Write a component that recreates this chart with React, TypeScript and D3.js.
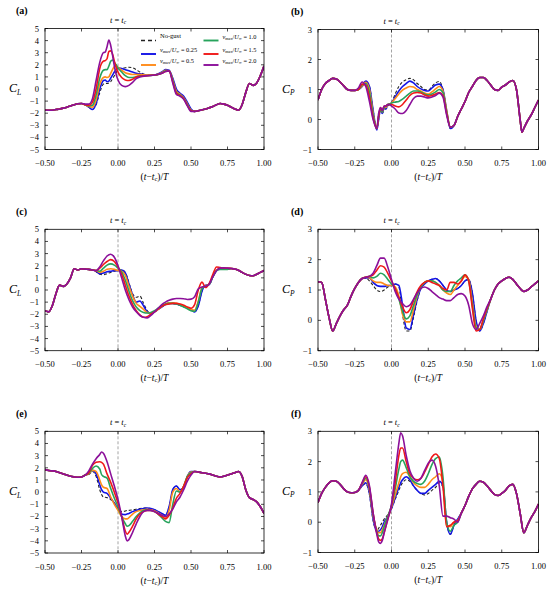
import React from 'react';
import * as d3 from 'd3';

// ---------------------------------------------------------------------------
// Sample times (t - tc)/T
// ---------------------------------------------------------------------------

const PRE_T = [-0.5, -0.475, -0.45, -0.425, -0.4, -0.375, -0.35, -0.325, -0.3, -0.275, -0.25];
const PRE_T_C = [-0.5, -0.475, -0.45, -0.425, -0.4, -0.375, -0.35, -0.325, -0.3, -0.275, -0.25, -0.225, -0.2, -0.175];
const PRE_T_D = [-0.5, -0.475, -0.45, -0.425, -0.4, -0.375, -0.35, -0.325, -0.3, -0.275, -0.25, -0.225, -0.2];

const WIN_T_A = [-0.225, -0.2, -0.175, -0.15, -0.125, -0.1, -0.0875, -0.075, -0.0625, -0.05, -0.0375, -0.025, -0.0125, 0, 0.025, 0.05, 0.075, 0.1, 0.125, 0.15, 0.2, 0.25, 0.3, 0.325, 0.35, 0.375, 0.4, 0.425, 0.45, 0.475, 0.5, 0.525];
const WIN_T_B = [-0.225, -0.2, -0.175, -0.15, -0.125, -0.1, -0.0875, -0.075, -0.0625, -0.05, -0.0375, -0.025, -0.0125, 0, 0.025, 0.05, 0.075, 0.1, 0.125, 0.15, 0.175, 0.2, 0.225, 0.25, 0.275, 0.3, 0.325, 0.35, 0.375, 0.4, 0.425];
const WIN_T_C = [-0.15, -0.125, -0.1, -0.075, -0.05, -0.025, 0, 0.025, 0.05, 0.075, 0.1, 0.125, 0.15, 0.175, 0.2, 0.225, 0.25, 0.275, 0.3, 0.325, 0.35, 0.375, 0.4, 0.425, 0.45, 0.475, 0.5, 0.525, 0.55, 0.575, 0.6, 0.625, 0.65, 0.675, 0.7, 0.725, 0.75];
const WIN_T_D = [-0.175, -0.15, -0.125, -0.1, -0.075, -0.05, -0.025, 0, 0.025, 0.05, 0.075, 0.1, 0.125, 0.15, 0.175, 0.2, 0.225, 0.25, 0.275, 0.3, 0.325, 0.35, 0.375, 0.4, 0.425, 0.45, 0.475, 0.5, 0.525, 0.55, 0.575, 0.6, 0.625, 0.65];
const WIN_T_E = [-0.225, -0.2, -0.175, -0.15, -0.125, -0.1125, -0.1, -0.075, -0.05, -0.025, 0, 0.025, 0.05, 0.0625, 0.075, 0.1, 0.125, 0.15, 0.175, 0.2, 0.225, 0.25, 0.275, 0.3, 0.325, 0.35, 0.375, 0.4, 0.425, 0.45, 0.475, 0.5];
const WIN_T_F = [-0.225, -0.2, -0.175, -0.15, -0.125, -0.1, -0.0875, -0.075, -0.0625, -0.05, -0.025, 0, 0.025, 0.05, 0.0625, 0.075, 0.1, 0.125, 0.15, 0.175, 0.2, 0.225, 0.25, 0.275, 0.3, 0.325, 0.35, 0.375, 0.4, 0.425, 0.45, 0.475];

const POST_T_A = [0.55, 0.575, 0.6, 0.625, 0.65, 0.675, 0.7, 0.725, 0.75, 0.775, 0.8, 0.825, 0.85, 0.875, 0.9, 0.925, 0.95, 0.975, 1.0];
const POST_T_B = [0.45, 0.475, 0.5, 0.525, 0.55, 0.575, 0.6, 0.625, 0.65, 0.675, 0.7, 0.725, 0.75, 0.775, 0.8, 0.825, 0.85, 0.875, 0.8875, 0.9, 0.925, 0.95, 0.975, 1.0];
const POST_T_C = [0.775, 0.8, 0.825, 0.85, 0.875, 0.9, 0.925, 0.95, 0.975, 1.0];
const POST_T_D = [0.675, 0.7, 0.725, 0.75, 0.775, 0.8, 0.825, 0.85, 0.875, 0.9, 0.925, 0.95, 0.975, 1.0];
const POST_T_E = [0.525, 0.55, 0.575, 0.6, 0.625, 0.65, 0.675, 0.7, 0.725, 0.75, 0.775, 0.8, 0.825, 0.85, 0.875, 0.9, 0.925, 0.95, 0.975, 1.0];
const POST_T_F = [0.5, 0.525, 0.55, 0.575, 0.6, 0.625, 0.65, 0.675, 0.7, 0.725, 0.75, 0.775, 0.8, 0.825, 0.85, 0.875, 0.9, 0.925, 0.95, 0.975, 1.0];

// ---------------------------------------------------------------------------
// (a) lift coefficient
// ---------------------------------------------------------------------------

const A_PRE = [-1.73, -1.75, -1.75, -1.7, -1.65, -1.58, -1.5, -1.4, -1.3, -1.22, -1.2];
const A_POST = [-1.8, -1.72, -1.65, -1.55, -1.45, -1.3, -1.2, -1.25, -1.35, -1.5, -1.65, -1.75, -1.3, -0.3, 0.45, 0.3, 0.5, 1.1, 1.9];
const A_NOGUST = [-1.3, -1.5, -1.65, -1.3, -0.3, 0.4, 0.45, 0.45, 0.5, 0.6, 0.85, 1.1, 1.35, 1.6, 1.7, 1.75, 1.8, 1.75, 1.6, 1.4, 1.15, 1.15, 1.35, 1.55, 1.5, 0.8, -0.1, -0.4, -0.65, -1.15, -1.7, -1.85];
const A_V025 = [-1.3, -1.5, -1.7, -1.2, 0.0, 0.7, 0.75, 0.6, 0.65, 0.9, 1.15, 1.4, 1.6, 1.75, 1.7, 1.6, 1.5, 1.4, 1.3, 1.25, 1.15, 1.15, 1.4, 1.6, 1.55, 0.9, 0.0, -0.35, -0.6, -1.1, -1.65, -1.85];
const A_V05 = [-1.3, -1.45, -1.5, -0.9, 0.4, 0.95, 1.0, 0.95, 1.0, 1.3, 1.6, 1.85, 1.9, 1.8, 1.55, 1.35, 1.25, 1.2, 1.2, 1.2, 1.15, 1.15, 1.35, 1.55, 1.5, 0.75, -0.2, -0.45, -0.75, -1.25, -1.75, -1.85];
const A_V10 = [-1.3, -1.4, -1.35, -0.5, 0.9, 1.55, 1.6, 1.6, 1.9, 2.3, 2.4, 2.2, 2.0, 1.75, 1.4, 1.1, 0.95, 0.95, 1.0, 1.1, 1.1, 1.15, 1.3, 1.5, 1.5, 0.7, -0.3, -0.5, -0.8, -1.3, -1.8, -1.85];
const A_V15 = [-1.3, -1.35, -1.1, 0.0, 1.7, 2.3, 2.35, 2.5, 3.1, 3.15, 2.9, 2.3, 1.8, 1.4, 0.95, 0.75, 0.7, 0.8, 1.0, 1.05, 1.1, 1.15, 1.3, 1.45, 1.5, 0.6, -0.35, -0.55, -0.8, -1.35, -1.8, -1.85];
const A_V20 = [-1.25, -1.25, -0.8, 0.7, 2.2, 3.0, 3.05, 3.5, 4.05, 3.6, 2.8, 1.9, 1.2, 0.75, 0.3, 0.2, 0.3, 0.55, 0.85, 1.0, 1.1, 1.15, 1.3, 1.45, 1.5, 0.5, -0.45, -0.6, -0.85, -1.4, -1.85, -1.85];

// ---------------------------------------------------------------------------
// (b) power coefficient
// ---------------------------------------------------------------------------

const B_PRE = [0.65, 1.0, 1.2, 1.3, 1.37, 1.35, 1.25, 1.12, 1.0, 0.97, 0.97];
const B_POST = [0.1, 0.35, 0.6, 0.9, 1.1, 1.3, 1.4, 1.4, 1.3, 1.15, 1.0, 0.97, 1.08, 1.15, 1.25, 1.3, 1.0, 0.0, -0.42, -0.3, -0.05, 0.15, 0.4, 0.65];
const B_NOGUST = [1.0, 1.1, 1.27, 1.1, 0.3, -0.3, 0.0, 0.3, 0.2, 0.35, 0.35, 0.45, 0.5, 0.55, 0.85, 1.1, 1.25, 1.33, 1.37, 1.32, 1.2, 1.1, 1.0, 0.98, 1.1, 1.22, 1.27, 1.0, 0.3, -0.3, -0.2];
const B_V025 = [1.0, 1.1, 1.28, 1.1, 0.3, -0.35, 0.0, 0.35, 0.2, 0.4, 0.35, 0.5, 0.5, 0.55, 0.75, 0.95, 1.1, 1.2, 1.28, 1.22, 1.1, 1.02, 0.97, 0.95, 1.05, 1.15, 1.18, 1.0, 0.3, -0.3, -0.2];
const B_V05 = [1.0, 1.12, 1.24, 1.0, 0.2, -0.3, 0.1, 0.35, 0.25, 0.4, 0.4, 0.5, 0.5, 0.55, 0.7, 0.85, 0.98, 1.05, 1.1, 1.08, 1.0, 0.95, 0.88, 0.85, 0.92, 1.02, 1.1, 0.95, 0.3, -0.25, -0.2];
const B_V10 = [1.0, 1.15, 1.2, 0.9, 0.15, -0.3, 0.1, 0.35, 0.25, 0.4, 0.45, 0.5, 0.52, 0.55, 0.58, 0.6, 0.68, 0.78, 0.88, 0.95, 0.95, 0.92, 0.85, 0.82, 0.85, 0.92, 1.0, 0.9, 0.25, -0.25, -0.2];
const B_V15 = [1.0, 1.18, 1.15, 0.75, 0.05, -0.3, 0.1, 0.4, 0.3, 0.45, 0.45, 0.5, 0.5, 0.5, 0.45, 0.42, 0.5, 0.65, 0.8, 0.88, 0.9, 0.88, 0.82, 0.78, 0.8, 0.85, 0.9, 0.8, 0.2, -0.25, -0.2];
const B_V20 = [1.05, 1.25, 1.1, 0.6, 0.0, -0.3, 0.2, 0.4, 0.3, 0.45, 0.45, 0.5, 0.5, 0.45, 0.35, 0.22, 0.2, 0.3, 0.5, 0.7, 0.78, 0.78, 0.75, 0.72, 0.75, 0.8, 0.88, 0.75, 0.15, -0.25, -0.2];

// ---------------------------------------------------------------------------
// (c) lift coefficient
// ---------------------------------------------------------------------------

const C_PRE = [-1.7, -1.8, -1.3, -0.3, 0.4, 0.3, 0.5, 1.0, 1.75, 1.65, 1.75, 1.72, 1.7, 1.65];
const C_POST = [1.77, 1.73, 1.62, 1.45, 1.3, 1.2, 1.18, 1.3, 1.45, 1.6];
const C_NOGUST = [1.5, 1.3, 1.25, 1.35, 1.45, 1.55, 1.6, 1.65, 1.45, 0.6, -0.3, -0.6, -0.5, -1.1, -1.7, -1.95, -1.8, -1.6, -1.4, -1.2, -1.1, -1.1, -1.15, -1.25, -1.35, -1.5, -1.6, -1.8, -1.3, -0.1, 0.4, 0.45, 1.1, 1.6, 1.75, 1.75, 1.75];
const C_V025 = [1.55, 1.35, 1.4, 1.5, 1.55, 1.6, 1.6, 1.65, 1.4, 0.5, -0.4, -1.0, -0.9, -1.3, -1.8, -1.95, -1.8, -1.6, -1.4, -1.2, -1.1, -1.1, -1.15, -1.25, -1.35, -1.5, -1.6, -1.8, -1.3, -0.1, 0.4, 0.45, 1.1, 1.6, 1.75, 1.75, 1.75];
const C_V05 = [1.6, 1.45, 1.55, 1.7, 1.75, 1.7, 1.6, 1.55, 1.2, 0.3, -0.5, -1.1, -1.35, -1.6, -1.85, -1.9, -1.8, -1.6, -1.35, -1.15, -1.05, -1.05, -1.1, -1.2, -1.3, -1.45, -1.6, -1.65, -0.9, 0.2, 0.35, 0.5, 1.15, 1.65, 1.75, 1.75, 1.75];
const C_V10 = [1.6, 1.55, 1.8, 2.05, 2.15, 2.05, 1.8, 1.5, 0.8, -0.1, -0.9, -1.4, -1.7, -1.85, -1.9, -1.85, -1.7, -1.5, -1.3, -1.15, -1.1, -1.1, -1.15, -1.25, -1.4, -1.55, -1.7, -1.75, -1.0, 0.1, 0.3, 0.45, 1.1, 1.6, 1.7, 1.7, 1.7];
const C_V15 = [1.6, 1.8, 2.1, 2.35, 2.5, 2.35, 1.9, 1.3, 0.4, -0.5, -1.2, -1.7, -2.05, -2.25, -2.2, -2.0, -1.8, -1.55, -1.35, -1.2, -1.15, -1.1, -1.1, -1.15, -1.25, -1.4, -1.5, -1.2, 0.0, 0.65, 0.2, 0.55, 1.3, 1.9, 1.85, 1.8, 1.8];
const C_V20 = [1.6, 1.9, 2.4, 2.8, 2.95, 2.7, 2.0, 1.0, 0.0, -0.8, -1.4, -1.8, -2.1, -2.25, -2.3, -2.1, -1.8, -1.5, -1.2, -1.0, -0.85, -0.75, -0.7, -0.7, -0.72, -0.78, -0.75, -0.55, 0.1, 0.25, 0.3, 0.5, 1.1, 1.6, 1.8, 1.82, 1.8];

// ---------------------------------------------------------------------------
// (d) power coefficient
// ---------------------------------------------------------------------------

const D_PRE = [1.27, 1.25, 0.7, 0.1, -0.35, -0.1, 0.15, 0.35, 0.5, 0.8, 1.05, 1.25, 1.38];
const D_POST = [0.7, 1.0, 1.2, 1.3, 1.38, 1.42, 1.35, 1.2, 1.05, 0.95, 1.0, 1.1, 1.2, 1.3];
const D_NOGUST = [1.38, 1.3, 1.15, 1.0, 0.95, 1.0, 1.1, 1.15, 1.2, 1.1, 0.2, -0.35, -0.35, 0.1, 0.65, 1.05, 1.2, 1.3, 1.35, 1.38, 1.3, 1.15, 1.0, 0.95, 1.0, 1.05, 1.15, 1.3, 1.35, 0.9, 0.0, -0.35, -0.1, 0.3];
const D_V025 = [1.4, 1.4, 1.25, 1.15, 1.12, 1.12, 1.15, 1.15, 1.2, 1.15, 0.5, -0.25, -0.3, 0.2, 0.7, 1.05, 1.2, 1.3, 1.35, 1.38, 1.3, 1.15, 1.0, 0.95, 1.0, 1.05, 1.15, 1.3, 1.35, 0.9, 0.0, -0.35, -0.1, 0.3];
const D_V05 = [1.42, 1.4, 1.3, 1.25, 1.25, 1.2, 1.15, 1.15, 1.1, 0.8, 0.2, -0.05, -0.05, 0.35, 0.8, 1.1, 1.25, 1.3, 1.3, 1.25, 1.15, 1.0, 0.9, 0.85, 1.0, 1.15, 1.3, 1.45, 1.35, 0.6, -0.2, -0.3, 0.0, 0.35];
const D_V10 = [1.42, 1.45, 1.4, 1.45, 1.55, 1.5, 1.35, 1.2, 1.05, 0.7, 0.3, 0.05, 0.15, 0.5, 0.85, 1.1, 1.25, 1.3, 1.3, 1.25, 1.15, 1.0, 0.95, 0.95, 1.15, 1.3, 1.4, 1.5, 1.3, 0.5, -0.25, -0.3, 0.0, 0.35];
const D_V15 = [1.42, 1.45, 1.5, 1.65, 1.8, 1.75, 1.55, 1.3, 1.05, 0.75, 0.45, 0.25, 0.35, 0.65, 0.95, 1.15, 1.25, 1.3, 1.25, 1.2, 1.15, 1.05, 1.0, 1.25, 1.25, 1.2, 1.3, 1.5, 1.3, 0.4, -0.35, -0.3, 0.05, 0.4];
const D_V20 = [1.42, 1.45, 1.55, 1.8, 2.05, 2.05, 1.75, 1.35, 0.95, 0.7, 0.55, 0.45, 0.5, 0.7, 0.9, 1.05, 1.1, 1.05, 0.95, 0.85, 0.75, 0.7, 0.65, 0.65, 0.75, 0.85, 0.88, 0.8, 0.5, -0.1, -0.3, -0.1, 0.15, 0.45];

// ---------------------------------------------------------------------------
// (e) lift coefficient
// ---------------------------------------------------------------------------

const E_PRE = [1.85, 1.78, 1.75, 1.7, 1.6, 1.5, 1.4, 1.3, 1.25, 1.22, 1.25];
const E_POST = [1.7, 1.65, 1.6, 1.55, 1.5, 1.4, 1.3, 1.25, 1.3, 1.4, 1.5, 1.6, 1.7, 1.3, 0.2, -0.45, -0.6, -0.8, -1.2, -1.75];
const E_NOGUST = [1.4, 1.45, 1.7, 1.3, 0.2, -0.2, -0.4, -0.45, -0.6, -0.9, -1.3, -1.6, -1.55, -1.5, -1.5, -1.45, -1.4, -1.35, -1.3, -1.3, -1.35, -1.45, -1.6, -1.75, -1.9, -1.2, 0.2, 0.5, 0.2, 0.4, 1.3, 1.7];
const E_V025 = [1.4, 1.5, 1.8, 1.5, 0.6, 0.2, 0.0, -0.1, -0.5, -0.9, -1.4, -1.8, -1.85, -1.8, -1.75, -1.6, -1.5, -1.4, -1.35, -1.3, -1.35, -1.45, -1.6, -1.75, -1.9, -1.2, 0.2, 0.5, 0.2, 0.4, 1.3, 1.7];
const E_V05 = [1.4, 1.5, 1.8, 1.7, 1.0, 0.6, 0.4, 0.3, -0.4, -1.0, -1.5, -2.0, -2.2, -2.2, -2.1, -1.8, -1.6, -1.5, -1.45, -1.4, -1.45, -1.55, -1.7, -1.9, -2.1, -1.5, 0.0, 0.3, 0.0, 0.5, 1.3, 1.65];
const E_V10 = [1.4, 1.55, 1.95, 2.15, 1.9, 1.45, 1.3, 1.15, 0.3, -0.5, -1.2, -2.0, -2.6, -2.8, -2.75, -2.4, -2.0, -1.7, -1.5, -1.45, -1.5, -1.6, -1.8, -2.1, -2.4, -2.5, -1.0, 0.1, 0.0, 0.5, 1.3, 1.6];
const E_V15 = [1.4, 1.6, 2.2, 2.45, 2.5, 2.45, 2.3, 1.5, 0.8, 0.0, -0.9, -2.0, -3.2, -3.45, -3.3, -2.8, -2.2, -1.8, -1.6, -1.5, -1.5, -1.6, -1.8, -2.0, -2.2, -1.9, -1.3, -0.5, -0.1, 0.5, 1.2, 1.5];
const E_V20 = [1.4, 1.75, 2.3, 2.75, 3.1, 3.3, 3.2, 2.5, 1.5, 0.5, -0.6, -2.0, -3.6, -4.0, -3.9, -3.3, -2.6, -2.0, -1.6, -1.5, -1.5, -1.6, -1.75, -1.9, -2.0, -1.8, -1.4, -0.8, -0.4, 0.2, 0.9, 1.4];

// ---------------------------------------------------------------------------
// (f) power coefficient
// ---------------------------------------------------------------------------

const F_PRE = [0.65, 0.95, 1.15, 1.3, 1.37, 1.35, 1.25, 1.1, 1.0, 0.97, 0.98];
const F_POST = [0.55, 0.85, 1.1, 1.25, 1.35, 1.32, 1.2, 1.05, 0.92, 0.88, 0.95, 1.05, 1.2, 1.25, 0.95, 0.3, -0.35, -0.1, 0.15, 0.35, 0.6];
const F_NOGUST = [1.05, 1.2, 1.28, 0.9, 0.05, -0.3, -0.2, -0.1, 0.0, 0.1, 0.25, 0.45, 0.75, 1.05, 1.2, 1.3, 1.4, 1.35, 1.2, 1.05, 0.95, 0.9, 0.95, 1.05, 1.15, 1.3, 1.15, 0.0, -0.4, -0.1, 0.1, 0.3];
const F_V025 = [1.05, 1.2, 1.3, 0.95, 0.1, -0.3, -0.3, -0.25, -0.15, 0.0, 0.2, 0.45, 0.8, 1.15, 1.3, 1.4, 1.5, 1.4, 1.2, 1.05, 0.95, 0.95, 1.05, 1.15, 1.25, 1.35, 1.2, 0.0, -0.4, -0.1, 0.1, 0.3];
const F_V05 = [1.05, 1.25, 1.4, 1.05, 0.2, -0.25, -0.35, -0.35, -0.25, -0.1, 0.2, 0.5, 0.9, 1.3, 1.5, 1.6, 1.65, 1.5, 1.3, 1.2, 1.15, 1.15, 1.25, 1.4, 1.5, 1.6, 1.3, -0.1, -0.15, 0.0, 0.05, 0.3];
const F_V10 = [1.05, 1.28, 1.45, 1.1, 0.25, -0.3, -0.45, -0.45, -0.35, -0.15, 0.2, 0.55, 1.1, 1.75, 2.0, 2.05, 1.8, 1.5, 1.35, 1.28, 1.25, 1.35, 1.6, 1.9, 2.1, 2.15, 1.5, 0.0, -0.3, -0.1, 0.0, 0.3];
const F_V15 = [1.05, 1.3, 1.5, 1.15, 0.3, -0.35, -0.55, -0.6, -0.55, -0.35, 0.1, 0.55, 1.3, 2.2, 2.45, 2.45, 2.0, 1.6, 1.45, 1.4, 1.45, 1.65, 1.9, 2.15, 2.25, 2.1, 1.2, -0.15, -0.1, 0.0, 0.05, 0.3];
const F_V20 = [1.05, 1.3, 1.55, 1.2, 0.3, -0.4, -0.65, -0.7, -0.6, -0.35, 0.1, 0.6, 1.6, 2.6, 2.95, 2.85, 2.2, 1.7, 1.45, 1.35, 1.45, 1.7, 1.95, 2.05, 1.85, 1.2, 0.2, 0.2, 0.15, 0.1, 0.0, 0.3];

// ---------------------------------------------------------------------------
// Ticks, legend
// ---------------------------------------------------------------------------

const T_TICKS = [-0.5, -0.25, 0, 0.25, 0.5, 0.75, 1.0];
const CL_TICKS = [-5, -4, -3, -2, -1, 0, 1, 2, 3, 4, 5];
const CP_TICKS = [-1, 0, 1, 2, 3];
const RATIOS = ['0.25', '0.5', '1.0', '1.5', '2.0'];

const COLORS = ['#222222', '#1414e6', '#ff8c1a', '#27a35c', '#f01818', '#8c109a'];

const FONT = '"Liberation Serif", "DejaVu Serif", serif';

interface Panel {
  label: string;
  kind: 'L' | 'P';
  left: number;
  right: number;
  top: number;
  bottom: number;
  times: number[];
  series: number[][];
}

function build(pre: number[], win: number[][], post: number[]) {
  return win.map((w) => [...pre, ...w, ...post]);
}

const PANELS: Panel[] = [
  {
    label: '(a)', kind: 'L', left: 45, right: 264, top: 28.5, bottom: 149.5,
    times: [...PRE_T, ...WIN_T_A, ...POST_T_A],
    series: build(A_PRE, [A_NOGUST, A_V025, A_V05, A_V10, A_V15, A_V20], A_POST),
  },
  {
    label: '(b)', kind: 'P', left: 318, right: 538.5, top: 29.5, bottom: 149.5,
    times: [...PRE_T, ...WIN_T_B, ...POST_T_B],
    series: build(B_PRE, [B_NOGUST, B_V025, B_V05, B_V10, B_V15, B_V20], B_POST),
  },
  {
    label: '(c)', kind: 'L', left: 45, right: 264, top: 229.3, bottom: 350.7,
    times: [...PRE_T_C, ...WIN_T_C, ...POST_T_C],
    series: build(C_PRE, [C_NOGUST, C_V025, C_V05, C_V10, C_V15, C_V20], C_POST),
  },
  {
    label: '(d)', kind: 'P', left: 318, right: 538.5, top: 229.3, bottom: 350.7,
    times: [...PRE_T_D, ...WIN_T_D, ...POST_T_D],
    series: build(D_PRE, [D_NOGUST, D_V025, D_V05, D_V10, D_V15, D_V20], D_POST),
  },
  {
    label: '(e)', kind: 'L', left: 45, right: 264, top: 431.3, bottom: 553,
    times: [...PRE_T, ...WIN_T_E, ...POST_T_E],
    series: build(E_PRE, [E_NOGUST, E_V025, E_V05, E_V10, E_V15, E_V20], E_POST),
  },
  {
    label: '(f)', kind: 'P', left: 318, right: 538.5, top: 431.3, bottom: 552.5,
    times: [...PRE_T, ...WIN_T_F, ...POST_T_F],
    series: build(F_PRE, [F_NOGUST, F_V025, F_V05, F_V10, F_V15, F_V20], F_POST),
  },
];

const fmtT = d3.format('.2f');

function RatioText({ x, y, r }: { x: number; y: number; r: string }) {
  return (
    <text x={x} y={y} fontSize={6.3} fontFamily={FONT}>
      <tspan fontStyle="italic">v</tspan>
      <tspan fontSize={4.2} dy={1.2}>max</tspan>
      <tspan dy={-1.2}>/</tspan>
      <tspan fontStyle="italic">U</tspan>
      <tspan fontSize={4.2} dy={1.2}>∞</tspan>
      <tspan dy={-1.2}>{` = ${r}`}</tspan>
    </text>
  );
}

function Legend() {
  const rows = [40.5, 54, 65];
  const items = [
    { c: 0, col: 0, row: 0 },
    { c: 1, col: 0, row: 1 },
    { c: 2, col: 0, row: 2 },
    { c: 3, col: 1, row: 0 },
    { c: 4, col: 1, row: 1 },
    { c: 5, col: 1, row: 2 },
  ];
  const lineX = [141, 203.5];
  return (
    <g>
      {items.map((it) => {
        const y = rows[it.row];
        const x0 = lineX[it.col];
        return (
          <g key={it.c}>
            <line
              x1={x0} x2={x0 + 15} y1={y} y2={y}
              stroke={COLORS[it.c]}
              strokeWidth={it.c === 0 ? 1.4 : 1.9}
              strokeDasharray={it.c === 0 ? '4,3' : undefined}
            />
            {it.c === 0 ? (
              <text x={160} y={y - 2.5} fontSize={6.5} fontFamily={FONT}>No-gust</text>
            ) : (
              <RatioText x={x0 + 19} y={y - 2} r={RATIOS[it.c - 1]} />
            )}
          </g>
        );
      })}
    </g>
  );
}

function PanelPlot({ p, idx }: { p: Panel; idx: number }) {
  const x = d3.scaleLinear().domain([-0.5, 1]).range([p.left, p.right]);
  const yDomain = p.kind === 'L' ? [-5, 5] : [-1, 3];
  const yTicks = p.kind === 'L' ? CL_TICKS : CP_TICKS;
  const y = d3.scaleLinear().domain(yDomain).range([p.bottom, p.top]);
  const line = d3
    .line<number>()
    .x((_d, i) => x(p.times[i]))
    .y((d) => y(d))
    .curve(d3.curveMonotoneX);
  const clipId = `clip-${idx}`;
  const midY = (p.top + p.bottom) / 2;
  const midX = (p.left + p.right) / 2;
  const tick = 3;

  return (
    <g>
      <defs>
        <clipPath id={clipId}>
          <rect x={p.left} y={p.top} width={p.right - p.left} height={p.bottom - p.top} />
        </clipPath>
      </defs>

      {/* t = tc marker */}
      <line
        x1={x(0)} x2={x(0)} y1={p.top} y2={p.bottom}
        stroke="#9a9a9a" strokeWidth={0.9} strokeDasharray="3,2"
      />

      <g clipPath={`url(#${clipId})`}>
        {p.series.map((s, i) => (
          <path
            key={i}
            d={line(s) || ''}
            fill="none"
            stroke={COLORS[i]}
            strokeWidth={i === 0 ? 1.1 : 1.6}
            strokeDasharray={i === 0 ? '3,2' : undefined}
            strokeLinejoin="round"
          />
        ))}
      </g>

      {/* frame */}
      <rect
        x={p.left} y={p.top} width={p.right - p.left} height={p.bottom - p.top}
        fill="none" stroke="#000" strokeWidth={0.8}
      />

      {/* x ticks */}
      {T_TICKS.map((t) => (
        <g key={`x${t}`}>
          <line x1={x(t)} x2={x(t)} y1={p.bottom} y2={p.bottom - tick} stroke="#000" strokeWidth={0.7} />
          <line x1={x(t)} x2={x(t)} y1={p.top} y2={p.top + tick} stroke="#000" strokeWidth={0.7} />
          <text x={x(t)} y={p.bottom + 16.5} fontSize={8.5} fontFamily={FONT} textAnchor="middle">
            {fmtT(t)}
          </text>
        </g>
      ))}

      {/* y ticks */}
      {yTicks.map((v) => (
        <g key={`y${v}`}>
          <line x1={p.left} x2={p.left + tick} y1={y(v)} y2={y(v)} stroke="#000" strokeWidth={0.7} />
          <line x1={p.right} x2={p.right - tick} y1={y(v)} y2={y(v)} stroke="#000" strokeWidth={0.7} />
          <text x={p.left - 6} y={y(v) + 3} fontSize={8.5} fontFamily={FONT} textAnchor="end">
            {d3.format('d')(v)}
          </text>
        </g>
      ))}

      {/* labels */}
      <text x={p.left - (p.kind === 'L' ? 29 : 27)} y={p.top - 14.5} fontSize={10} fontWeight="bold" fontFamily={FONT}>
        {p.label}
      </text>
      <text x={x(0)} y={p.top - 6} fontSize={8.5} fontFamily={FONT} textAnchor="middle" fontStyle="italic">
        t<tspan fontStyle="normal"> = </tspan>t<tspan fontSize={5.5} dy={1.5}>c</tspan>
      </text>
      <text x={p.left - 36} y={midY + 3} fontSize={12} fontFamily={FONT} fontStyle="italic">
        C<tspan fontSize={7.5} dy={2.5}>{p.kind}</tspan>
      </text>
      <text x={midX} y={p.bottom + 30.5} fontSize={9.5} fontFamily={FONT} textAnchor="middle">
        (<tspan fontStyle="italic">t</tspan>−<tspan fontStyle="italic">t</tspan>
        <tspan fontSize={6.5} dy={1}>c</tspan>
        <tspan dy={-1}>)/</tspan>
        <tspan fontStyle="italic">T</tspan>
      </text>

      {idx === 0 && <Legend />}
    </g>
  );
}

export default function App() {
  return (
    <svg
      width={550}
      height={589}
      viewBox="0 0 550 589"
      style={{ position: 'absolute', left: 0, top: 0, background: '#fff' }}
    >
      <rect width={550} height={589} fill="#fff" />
      {PANELS.map((p, i) => (
        <PanelPlot key={p.label} p={p} idx={i} />
      ))}
    </svg>
  );
}
